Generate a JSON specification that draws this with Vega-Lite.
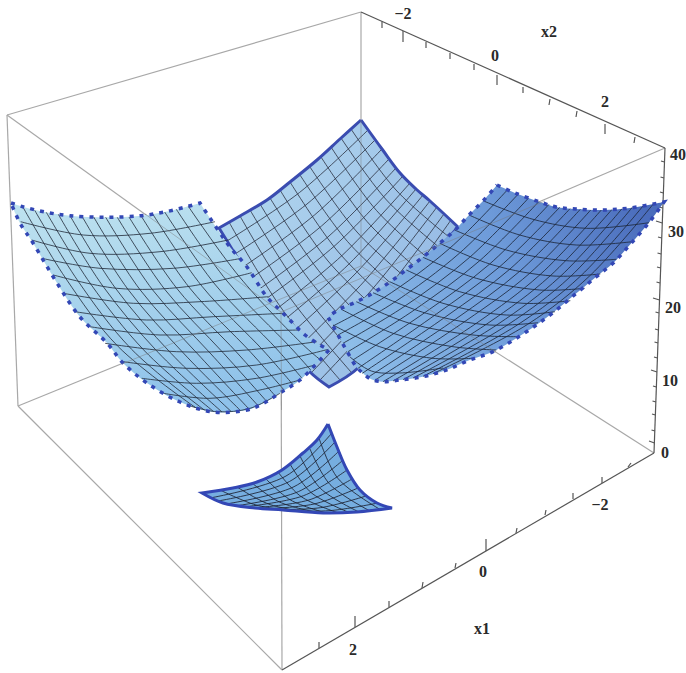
{"$schema":"https://vega.github.io/schema/vega-lite/v6.json","width":686,"height":673,"padding":0,"autosize":{"type":"fit","contains":"padding"},"background":"white","config":{"view":{"stroke":null}},
"datasets":{
"box":[{"x":7,"y":115,"x2":361,"y2":12},{"x":7,"y":115,"x2":281,"y2":312},{"x":665,"y2":312,"y":148,"x2":281},{"x":281,"y":312,"x2":282,"y2":670},{"x":7,"y":115,"x2":18,"y2":406},{"x":18,"y":406,"x2":282,"y2":670},{"x":18,"y":406,"x2":361,"y2":266},{"x":361,"y":266,"x2":654,"y2":453},{"x":361,"y":12,"x2":361,"y2":266}],
"axis":[{"x":361,"y":12,"x2":665,"y2":148},{"x":665,"y":148,"x2":654,"y2":453},{"x":282,"y":670,"x2":654,"y2":453},
{"x":382,"y":21.5,"x2":382,"y2":28},{"x":403,"y":31,"x2":403,"y2":42},{"x":426,"y":42,"x2":426,"y2":48},{"x":450,"y":53,"x2":450,"y2":59},{"x":474,"y":64,"x2":474,"y2":70},{"x":497,"y":75,"x2":497,"y2":85},{"x":523,"y":87,"x2":523,"y2":93},{"x":550,"y":99,"x2":549,"y2":105},{"x":577,"y":111,"x2":576,"y2":117},{"x":605,"y":124,"x2":605,"y2":134},{"x":635,"y":137,"x2":634,"y2":143},
{"x":319,"y":648,"x2":319,"y2":642},{"x":355,"y":627,"x2":355,"y2":616},{"x":389,"y":607,"x2":389,"y2":601},{"x":422,"y":588,"x2":423,"y2":582},{"x":455,"y":568,"x2":456,"y2":563},{"x":486,"y":551,"x2":486,"y2":539},{"x":516,"y":533,"x2":517,"y2":528},{"x":545,"y":515,"x2":546,"y2":510},{"x":573,"y":499,"x2":573,"y2":493},{"x":602,"y":483,"x2":602,"y2":477},{"x":628,"y":467,"x2":631,"y2":463},
{"x":664.5,"y":162,"x2":661,"y2":161},{"x":664,"y":178,"x2":660.5,"y2":177},{"x":663.4,"y":193,"x2":660,"y2":192},{"x":662.8,"y":208,"x2":659,"y2":207},{"x":662.3,"y":223,"x2":656,"y2":221},{"x":661.8,"y":238,"x2":658,"y2":237},{"x":661.2,"y":254,"x2":657.5,"y2":253},{"x":660.7,"y":268,"x2":657,"y2":267},{"x":660,"y":283,"x2":656.5,"y2":282},{"x":659.5,"y":300,"x2":653,"y2":298},{"x":659,"y":313,"x2":655.5,"y2":312},{"x":658.4,"y":330,"x2":655,"y2":329},{"x":658,"y":343,"x2":654.5,"y2":342},{"x":657.4,"y":358,"x2":654,"y2":357},{"x":657,"y":372,"x2":651,"y2":370},{"x":656.4,"y":387,"x2":653,"y2":386},{"x":656,"y":402,"x2":652.5,"y2":401},{"x":655.4,"y":415,"x2":652,"y2":414},{"x":655,"y":431,"x2":651.5,"y2":430},{"x":654.5,"y":443,"x2":649,"y2":441}],
"through":[{"x":145,"y":214,"x2":281,"y2":312},{"x":281,"y":312,"x2":545,"y2":201},{"x":281,"y":312,"x2":281.5,"y2":410},{"x":361,"y":120,"x2":361,"y2":266},{"x":361,"y":266,"x2":496,"y2":352},{"x":122,"y":364,"x2":361,"y2":266}],
"polyC":[{"x":361,"y":120},{"x":361,"y":120},{"x":340,"y":139},{"x":317,"y":160},{"x":290,"y":182},{"x":267,"y":200},{"x":240,"y":216},{"x":219,"y":228},{"x":219,"y":228},{"x":235,"y":254},{"x":250,"y":279},{"x":270,"y":314},{"x":295,"y":352},{"x":310,"y":372},{"x":329,"y":387},{"x":329,"y":387},{"x":358,"y":368},{"x":380,"y":337},{"x":421,"y":272},{"x":440,"y":248},{"x":458,"y":227},{"x":458,"y":227},{"x":430,"y":201},{"x":416,"y":189},{"x":400,"y":173},{"x":382,"y":149},{"x":361,"y":120},{"x":361,"y":120}],
"gridC":[
{"g":1,"x":351,"y":129},{"g":1,"x":396,"y":190},{"g":1,"x":449,"y":237},
{"g":2,"x":341,"y":138},{"g":2,"x":386.5,"y":200},{"g":2,"x":440,"y":248},
{"g":3,"x":331,"y":147},{"g":3,"x":376.5,"y":210.5},{"g":3,"x":430,"y":260},
{"g":4,"x":321,"y":157},{"g":4,"x":367,"y":221.5},{"g":4,"x":421,"y":272},
{"g":5,"x":310,"y":167},{"g":5,"x":357,"y":232},{"g":5,"x":412,"y":283},
{"g":6,"x":300,"y":175},{"g":6,"x":347.5,"y":241.5},{"g":6,"x":403,"y":294},
{"g":7,"x":290,"y":182},{"g":7,"x":337.5,"y":251},{"g":7,"x":393,"y":306},
{"g":8,"x":280,"y":190},{"g":8,"x":328,"y":261},{"g":8,"x":390,"y":322},
{"g":9,"x":270,"y":198},{"g":9,"x":318.5,"y":270.5},{"g":9,"x":380,"y":337},
{"g":10,"x":260,"y":204},{"g":10,"x":309,"y":279.5},{"g":10,"x":371,"y":350},
{"g":11,"x":250,"y":210},{"g":11,"x":299.5,"y":288},{"g":11,"x":361,"y":363},
{"g":12,"x":240,"y":216},{"g":12,"x":289.5,"y":297},{"g":12,"x":351,"y":372},
{"g":13,"x":229,"y":222},{"g":13,"x":279.5,"y":305.5},{"g":13,"x":340,"y":380},
{"g":21,"x":368,"y":130},{"g":21,"x":299.5,"y":192.5},{"g":21,"x":227,"y":241},
{"g":22,"x":375,"y":140},{"g":22,"x":307,"y":204},{"g":22,"x":235,"y":254},
{"g":23,"x":382,"y":149},{"g":23,"x":314.5,"y":215},{"g":23,"x":243,"y":267},
{"g":24,"x":389,"y":159},{"g":24,"x":321.5,"y":226},{"g":24,"x":250,"y":279},
{"g":25,"x":396,"y":168},{"g":25,"x":329,"y":236},{"g":25,"x":258,"y":290},
{"g":26,"x":403,"y":176},{"g":26,"x":335,"y":245.5},{"g":26,"x":263,"y":301},
{"g":27,"x":410,"y":183},{"g":27,"x":342,"y":255.5},{"g":27,"x":270,"y":314},
{"g":28,"x":416,"y":189},{"g":28,"x":349,"y":264},{"g":28,"x":278,"y":325},
{"g":29,"x":423,"y":195},{"g":29,"x":356.5,"y":272.5},{"g":29,"x":286,"y":338},
{"g":30,"x":430,"y":201},{"g":30,"x":364.5,"y":281},{"g":30,"x":295,"y":351},
{"g":31,"x":437,"y":207},{"g":31,"x":372,"y":289.5},{"g":31,"x":303,"y":362},
{"g":32,"x":444,"y":214},{"g":32,"x":380,"y":298},{"g":32,"x":312,"y":372},
{"g":33,"x":451,"y":220},{"g":33,"x":387.5,"y":306},{"g":33,"x":320,"y":380}],
"polyL":[{"x":11,"y":203},{"x":11,"y":203},{"x":22.7,"y":206.7},{"x":46.3,"y":212.3},{"x":70,"y":215.7},{"x":105.7,"y":217.3},{"x":141,"y":215.7},{"x":164.7,"y":212},{"x":188.3,"y":206.3},{"x":200,"y":203},{"x":200,"y":203},{"x":218,"y":230},{"x":230,"y":247},{"x":247,"y":267},{"x":267,"y":297},{"x":287,"y":317},{"x":305,"y":335},{"x":320,"y":345},{"x":329,"y":350},{"x":329,"y":350},{"x":320,"y":360},{"x":300,"y":380},{"x":280,"y":393},{"x":264,"y":403},{"x":247,"y":410},{"x":213,"y":412},{"x":180,"y":402},{"x":147,"y":383},{"x":123,"y":363},{"x":107,"y":343},{"x":80,"y":317},{"x":57,"y":283},{"x":33,"y":243},{"x":20,"y":223},{"x":11,"y":203},{"x":11,"y":203}],
"gridL":[
{"g":1,"x":20.7,"y":221.7},{"g":1,"x":83.3,"y":235},{"g":1,"x":150,"y":233.3},{"g":1,"x":215,"y":221.7},
{"g":2,"x":31.7,"y":240},{"g":2,"x":90,"y":253.3},{"g":2,"x":160,"y":251.7},{"g":2,"x":228.3,"y":240},
{"g":3,"x":41.7,"y":258.3},{"g":3,"x":100,"y":268.3},{"g":3,"x":173.3,"y":268.3},{"g":3,"x":241.7,"y":258.3},
{"g":4,"x":53.3,"y":275},{"g":4,"x":116.7,"y":288.3},{"g":4,"x":186.7,"y":286.7},{"g":4,"x":251.7,"y":272.7},
{"g":5,"x":63.3,"y":293.3},{"g":5,"x":133.3,"y":303.3},{"g":5,"x":200,"y":301.7},{"g":5,"x":268.3,"y":296.7},
{"g":6,"x":75,"y":311.7},{"g":6,"x":146.7,"y":320},{"g":6,"x":213.3,"y":316.7},{"g":6,"x":283.3,"y":313.3},
{"g":7,"x":90,"y":326.7},{"g":7,"x":160,"y":335},{"g":7,"x":230,"y":331.7},{"g":7,"x":300,"y":330},
{"g":8,"x":105,"y":343.3},{"g":8,"x":176.7,"y":351.7},{"g":8,"x":246.7,"y":350},{"g":8,"x":316.7,"y":341.7},
{"g":9,"x":123.3,"y":361.7},{"g":9,"x":186.7,"y":368.3},{"g":9,"x":256.7,"y":365},{"g":9,"x":328.3,"y":349.3},
{"g":10,"x":141.7,"y":378.3},{"g":10,"x":196.7,"y":383.3},{"g":10,"x":256.7,"y":378.3},{"g":10,"x":315,"y":365},
{"g":11,"x":163.3,"y":393.3},{"g":11,"x":210,"y":398.3},{"g":11,"x":260,"y":390},{"g":11,"x":300,"y":380},
{"g":12,"x":186.7,"y":405},{"g":12,"x":216.7,"y":411.7},{"g":12,"x":250,"y":408.3},{"g":12,"x":280,"y":393.3},
{"g":21,"x":22.7,"y":206.7},{"g":21,"x":65.7,"y":278.3},{"g":21,"x":118.3,"y":346.7},{"g":21,"x":195.7,"y":407.7},
{"g":22,"x":34.7,"y":210.3},{"g":22,"x":78,"y":281},{"g":22,"x":131.3,"y":349},{"g":22,"x":204.3,"y":410},
{"g":23,"x":46.3,"y":212.3},{"g":23,"x":90.7,"y":284},{"g":23,"x":144.7,"y":351},{"g":23,"x":213.3,"y":411.3},
{"g":24,"x":58.3,"y":214.3},{"g":24,"x":103,"y":286.3},{"g":24,"x":158,"y":352.3},{"g":24,"x":222,"y":412},
{"g":25,"x":70,"y":215.7},{"g":25,"x":115.3,"y":288},{"g":25,"x":171,"y":353.3},{"g":25,"x":231,"y":411.3},
{"g":26,"x":82,"y":216.3},{"g":26,"x":127.7,"y":289},{"g":26,"x":184.3,"y":354},{"g":26,"x":240,"y":410},
{"g":27,"x":93.7,"y":217},{"g":27,"x":140,"y":289.7},{"g":27,"x":197.7,"y":354},{"g":27,"x":248.7,"y":408.7},
{"g":28,"x":105.7,"y":217.3},{"g":28,"x":152.7,"y":290},{"g":28,"x":211,"y":354},{"g":28,"x":257.7,"y":405.3},
{"g":29,"x":117.3,"y":217.3},{"g":29,"x":165,"y":289.7},{"g":29,"x":224,"y":353.7},{"g":29,"x":266.3,"y":401},
{"g":30,"x":129,"y":217},{"g":30,"x":177.3,"y":289},{"g":30,"x":237.3,"y":353},{"g":30,"x":275.3,"y":396},
{"g":31,"x":141,"y":215.7},{"g":31,"x":189.7,"y":288},{"g":31,"x":250.7,"y":352.3},{"g":31,"x":284.3,"y":390.3},
{"g":32,"x":152.7,"y":214},{"g":32,"x":202,"y":286.3},{"g":32,"x":263.7,"y":351},{"g":32,"x":293,"y":384.7},
{"g":33,"x":164.7,"y":212},{"g":33,"x":214.7,"y":284},{"g":33,"x":277,"y":349.3},{"g":33,"x":302,"y":378.3},
{"g":34,"x":176.3,"y":209.3},{"g":34,"x":227,"y":281},{"g":34,"x":290.3,"y":347.3},{"g":34,"x":310.7,"y":370},
{"g":35,"x":188.3,"y":206.3},{"g":35,"x":239.3,"y":276.7},{"g":35,"x":303.3,"y":345},{"g":35,"x":319.7,"y":359.3}],
"polyR":[{"x":497,"y":185},{"x":497,"y":185},{"x":515,"y":193},{"x":540,"y":202},{"x":556,"y":207},{"x":576,"y":209},{"x":603,"y":210},{"x":630,"y":208},{"x":664,"y":202},{"x":664,"y":202},{"x":649.7,"y":221.7},{"x":629.7,"y":245},{"x":613,"y":263.3},{"x":596.3,"y":276.7},{"x":576.3,"y":293.3},{"x":556.3,"y":310},{"x":536.3,"y":325},{"x":516.3,"y":338.3},{"x":493,"y":351.7},{"x":469.7,"y":360},{"x":446.3,"y":370},{"x":423,"y":376.7},{"x":399.7,"y":380},{"x":383,"y":381.7},{"x":371.3,"y":379.3},{"x":363,"y":373.3},{"x":356.3,"y":366.7},{"x":346.3,"y":350},{"x":338,"y":335},{"x":328,"y":317},{"x":328,"y":317},{"x":340,"y":309},{"x":356,"y":302},{"x":373,"y":293},{"x":390,"y":282},{"x":406,"y":270},{"x":423,"y":257},{"x":440,"y":243},{"x":455,"y":230},{"x":469,"y":215},{"x":483,"y":201},{"x":497,"y":185},{"x":497,"y":185}],
"gridR":[
{"g":1,"x":483,"y":200.7},{"g":1,"x":533,"y":219.3},{"g":1,"x":586.3,"y":228.3},{"g":1,"x":649,"y":222.7},
{"g":2,"x":469,"y":215},{"g":2,"x":519.7,"y":235},{"g":2,"x":576.3,"y":245},{"g":2,"x":632.3,"y":241.7},
{"g":3,"x":454.7,"y":230},{"g":3,"x":506.3,"y":250},{"g":3,"x":566.3,"y":260.7},{"g":3,"x":616.3,"y":259.3},
{"g":4,"x":439.7,"y":243.3},{"g":4,"x":493,"y":265},{"g":4,"x":553,"y":276},{"g":4,"x":600.3,"y":274},
{"g":5,"x":423,"y":257.3},{"g":5,"x":476.3,"y":278.3},{"g":5,"x":539.7,"y":290},{"g":5,"x":584.7,"y":288.3},
{"g":6,"x":406.3,"y":270},{"g":6,"x":459.7,"y":291.7},{"g":6,"x":523,"y":303.3},{"g":6,"x":570.3,"y":300.7},
{"g":7,"x":389.7,"y":281.7},{"g":7,"x":443,"y":303.3},{"g":7,"x":506.3,"y":315},{"g":7,"x":555,"y":311.7},
{"g":8,"x":373,"y":292.7},{"g":8,"x":426.3,"y":313.3},{"g":8,"x":489.7,"y":325},{"g":8,"x":538,"y":322.7},
{"g":9,"x":356.3,"y":301.7},{"g":9,"x":409.7,"y":323.3},{"g":9,"x":473,"y":335},{"g":9,"x":518,"y":336.7},
{"g":10,"x":341.3,"y":309.3},{"g":10,"x":393,"y":333.3},{"g":10,"x":453,"y":346.7},{"g":10,"x":496.3,"y":350},
{"g":11,"x":333,"y":325},{"g":11,"x":379.7,"y":346.7},{"g":11,"x":433,"y":358.3},{"g":11,"x":473,"y":358.3},
{"g":12,"x":349.7,"y":356.7},{"g":12,"x":371.3,"y":371},{"g":12,"x":399.7,"y":373},{"g":12,"x":443,"y":368},
{"g":21,"x":653.3,"y":204},{"g":21,"x":590.3,"y":275.3},{"g":21,"x":527.7,"y":324.3},{"g":21,"x":433,"y":373.7},
{"g":22,"x":643,"y":206},{"g":22,"x":580.3,"y":276.3},{"g":22,"x":517.3,"y":325},{"g":22,"x":423,"y":376.3},
{"g":23,"x":632.3,"y":207.3},{"g":23,"x":570.3,"y":276.7},{"g":23,"x":507,"y":325.3},{"g":23,"x":413,"y":378},
{"g":24,"x":622,"y":208.7},{"g":24,"x":560,"y":276.7},{"g":24,"x":496.7,"y":325},{"g":24,"x":403,"y":379.7},
{"g":25,"x":611.7,"y":209.7},{"g":25,"x":550,"y":276},{"g":25,"x":486.3,"y":324.3},{"g":25,"x":393,"y":381},
{"g":26,"x":601.3,"y":210},{"g":26,"x":540,"y":274.7},{"g":26,"x":476.3,"y":323.3},{"g":26,"x":383,"y":381.7},
{"g":27,"x":590.7,"y":210},{"g":27,"x":530,"y":273},{"g":27,"x":466,"y":320.7},{"g":27,"x":374.7,"y":380.3},
{"g":28,"x":580.3,"y":209.3},{"g":28,"x":520,"y":271},{"g":28,"x":455.7,"y":319},{"g":28,"x":368,"y":377.3},
{"g":29,"x":570,"y":208.7},{"g":29,"x":510,"y":269},{"g":29,"x":445.3,"y":317},{"g":29,"x":362.3,"y":373.3},
{"g":30,"x":559.7,"y":207.3},{"g":30,"x":499.7,"y":266.7},{"g":30,"x":435,"y":315},{"g":30,"x":358,"y":368.3},
{"g":31,"x":549,"y":204.3},{"g":31,"x":489.7,"y":264},{"g":31,"x":424.7,"y":312.7},{"g":31,"x":353,"y":360},
{"g":32,"x":538.7,"y":201.7},{"g":32,"x":479.7,"y":260.7},{"g":32,"x":414.3,"y":310},{"g":32,"x":348,"y":351.7},
{"g":33,"x":528.3,"y":198.3},{"g":33,"x":469.7,"y":257.3},{"g":33,"x":404,"y":306.7},{"g":33,"x":343,"y":343.3},
{"g":34,"x":518,"y":194.3},{"g":34,"x":459.7,"y":253},{"g":34,"x":393.7,"y":302.7},{"g":34,"x":338,"y":335},
{"g":35,"x":507.3,"y":190},{"g":35,"x":449.7,"y":248.3},{"g":35,"x":383.3,"y":298},{"g":35,"x":333,"y":326}],
"polyS":[{"x":328,"y":424},{"x":328,"y":424},{"x":317,"y":440},{"x":303,"y":453},{"x":282,"y":470},{"x":257,"y":482},{"x":233,"y":488},{"x":202,"y":493},{"x":202,"y":493},{"x":223,"y":503},{"x":255,"y":508},{"x":283,"y":510},{"x":323,"y":513},{"x":357,"y":512},{"x":392,"y":508},{"x":392,"y":508},{"x":377,"y":503},{"x":360,"y":490},{"x":347,"y":470},{"x":337,"y":447},{"x":328,"y":424},{"x":328,"y":424}],
"gridS":[
{"g":1,"x":319,"y":438},{"g":1,"x":338,"y":478.5},{"g":1,"x":381,"y":510},
{"g":2,"x":310,"y":449},{"g":2,"x":330,"y":484.5},{"g":2,"x":370,"y":511},
{"g":3,"x":300,"y":456},{"g":3,"x":320.5,"y":488.5},{"g":3,"x":359,"y":512},
{"g":4,"x":290,"y":464},{"g":4,"x":311,"y":492.5},{"g":4,"x":348,"y":512},
{"g":5,"x":278,"y":472},{"g":5,"x":301,"y":496.5},{"g":5,"x":337,"y":512.5},
{"g":6,"x":265,"y":478},{"g":6,"x":290.5,"y":500},{"g":6,"x":326,"y":513},
{"g":7,"x":252,"y":483},{"g":7,"x":279.5,"y":502},{"g":7,"x":315,"y":512},
{"g":8,"x":237,"y":487},{"g":8,"x":268.5,"y":504},{"g":8,"x":305,"y":512},
{"g":9,"x":220,"y":490},{"g":9,"x":256,"y":505},{"g":9,"x":295,"y":511},
{"g":21,"x":331,"y":434},{"g":21,"x":286,"y":476},{"g":21,"x":210,"y":498},
{"g":22,"x":334,"y":443},{"g":22,"x":289.5,"y":481.5},{"g":22,"x":218,"y":501},
{"g":23,"x":338,"y":452},{"g":23,"x":294,"y":486.7},{"g":23,"x":226,"y":504},
{"g":24,"x":342,"y":461},{"g":24,"x":298.7,"y":491.5},{"g":24,"x":235,"y":506},
{"g":25,"x":347,"y":470},{"g":25,"x":303.5,"y":495.7},{"g":25,"x":243,"y":507},
{"g":26,"x":352,"y":479},{"g":26,"x":308.8,"y":500},{"g":26,"x":252,"y":508},
{"g":27,"x":358,"y":488},{"g":27,"x":314,"y":504},{"g":27,"x":260,"y":509},
{"g":28,"x":366,"y":496},{"g":28,"x":320.4,"y":507.7},{"g":28,"x":268,"y":509.5},
{"g":29,"x":378,"y":503},{"g":29,"x":329,"y":510.7},{"g":29,"x":277,"y":510}],
"labels":[{"x":403,"y":14,"t":"−2"},{"x":495,"y":56,"t":"0"},{"x":605,"y":102,"t":"2"},{"x":549,"y":32,"t":"x2"},{"x":678,"y":155,"t":"40"},{"x":676,"y":232,"t":"30"},{"x":673,"y":308,"t":"20"},{"x":670,"y":381,"t":"10"},{"x":665,"y":453,"t":"0"},{"x":600,"y":505,"t":"−2"},{"x":483,"y":572,"t":"0"},{"x":353,"y":650,"t":"2"},{"x":482,"y":629,"t":"x1"}]
},
"encoding":{"x":{"field":"x","type":"quantitative","scale":{"domain":[0,686]},"axis":null},"y":{"field":"y","type":"quantitative","scale":{"domain":[673,0]},"axis":null}},
"layer":[
{"data":{"name":"box"},"mark":{"type":"rule","stroke":"#a8a8a8","strokeWidth":1.2},"encoding":{"x2":{"field":"x2"},"y2":{"field":"y2"}}},
{"data":{"name":"axis"},"mark":{"type":"rule","stroke":"#555555","strokeWidth":1.2},"encoding":{"x2":{"field":"x2"},"y2":{"field":"y2"}}},
{"data":{"name":"polyC"},"mark":{"type":"line","interpolate":"catmull-rom","strokeWidth":0,"fill":{"gradient":"linear","x1":0,"y1":0,"x2":1,"y2":0.6,"stops":[{"offset":0,"color":"#b6dcf1"},{"offset":1,"color":"#95b9e4"}]}},"encoding":{"order":{"value":null}}},
{"data":{"name":"gridC"},"mark":{"type":"line","interpolate":"catmull-rom","stroke":"#2a3040","strokeWidth":1,"opacity":0.8},"encoding":{"detail":{"field":"g"},"order":{"value":null}}},
{"data":{"name":"polyC"},"mark":{"type":"line","interpolate":"catmull-rom","stroke":"#3a4cb0","strokeWidth":3},"encoding":{"order":{"value":null}}},
{"data":{"name":"polyR"},"mark":{"type":"line","interpolate":"catmull-rom","strokeWidth":0,"fill":{"gradient":"linear","x1":0,"y1":0.6,"x2":1,"y2":0.4,"stops":[{"offset":0,"color":"#8fbfe9"},{"offset":0.55,"color":"#6d9ad9"},{"offset":1,"color":"#4a6cbc"}]}},"encoding":{"order":{"value":null}}},
{"data":{"name":"gridR"},"mark":{"type":"line","interpolate":"catmull-rom","stroke":"#1f2a40","strokeWidth":1,"opacity":0.85},"encoding":{"detail":{"field":"g"},"order":{"value":null}}},
{"data":{"name":"polyR"},"mark":{"type":"line","interpolate":"catmull-rom","stroke":"#3347b5","strokeWidth":3.5,"strokeDash":[4,6]},"encoding":{"order":{"value":null}}},
{"data":{"name":"polyL"},"mark":{"type":"line","interpolate":"catmull-rom","strokeWidth":0,"fill":{"gradient":"linear","x1":0,"y1":0,"x2":0.2,"y2":1,"stops":[{"offset":0,"color":"#bfe3ef"},{"offset":1,"color":"#8fc2ea"}]}},"encoding":{"order":{"value":null}}},
{"data":{"name":"gridL"},"mark":{"type":"line","interpolate":"catmull-rom","stroke":"#222a3a","strokeWidth":1,"opacity":0.8},"encoding":{"detail":{"field":"g"},"order":{"value":null}}},
{"data":{"name":"polyL"},"mark":{"type":"line","interpolate":"catmull-rom","stroke":"#3347b5","strokeWidth":3.5,"strokeDash":[4,6]},"encoding":{"order":{"value":null}}},
{"data":{"name":"through"},"mark":{"type":"rule","stroke":"#777777","strokeWidth":1,"opacity":0.45},"encoding":{"x2":{"field":"x2"},"y2":{"field":"y2"}}},
{"data":{"name":"polyS"},"mark":{"type":"line","interpolate":"catmull-rom","strokeWidth":0,"fill":"#76aee0"},"encoding":{"order":{"value":null}}},
{"data":{"name":"gridS"},"mark":{"type":"line","interpolate":"catmull-rom","stroke":"#1c2233","strokeWidth":1,"opacity":0.85},"encoding":{"detail":{"field":"g"},"order":{"value":null}}},
{"data":{"name":"polyS"},"mark":{"type":"line","interpolate":"catmull-rom","stroke":"#3347b5","strokeWidth":3},"encoding":{"order":{"value":null}}},
{"data":{"name":"labels"},"mark":{"type":"text","font":"Liberation Serif","fontSize":16,"fontWeight":"bold","fill":"#2a2a2a","align":"center","baseline":"middle"},"encoding":{"text":{"field":"t"}}}
]}
